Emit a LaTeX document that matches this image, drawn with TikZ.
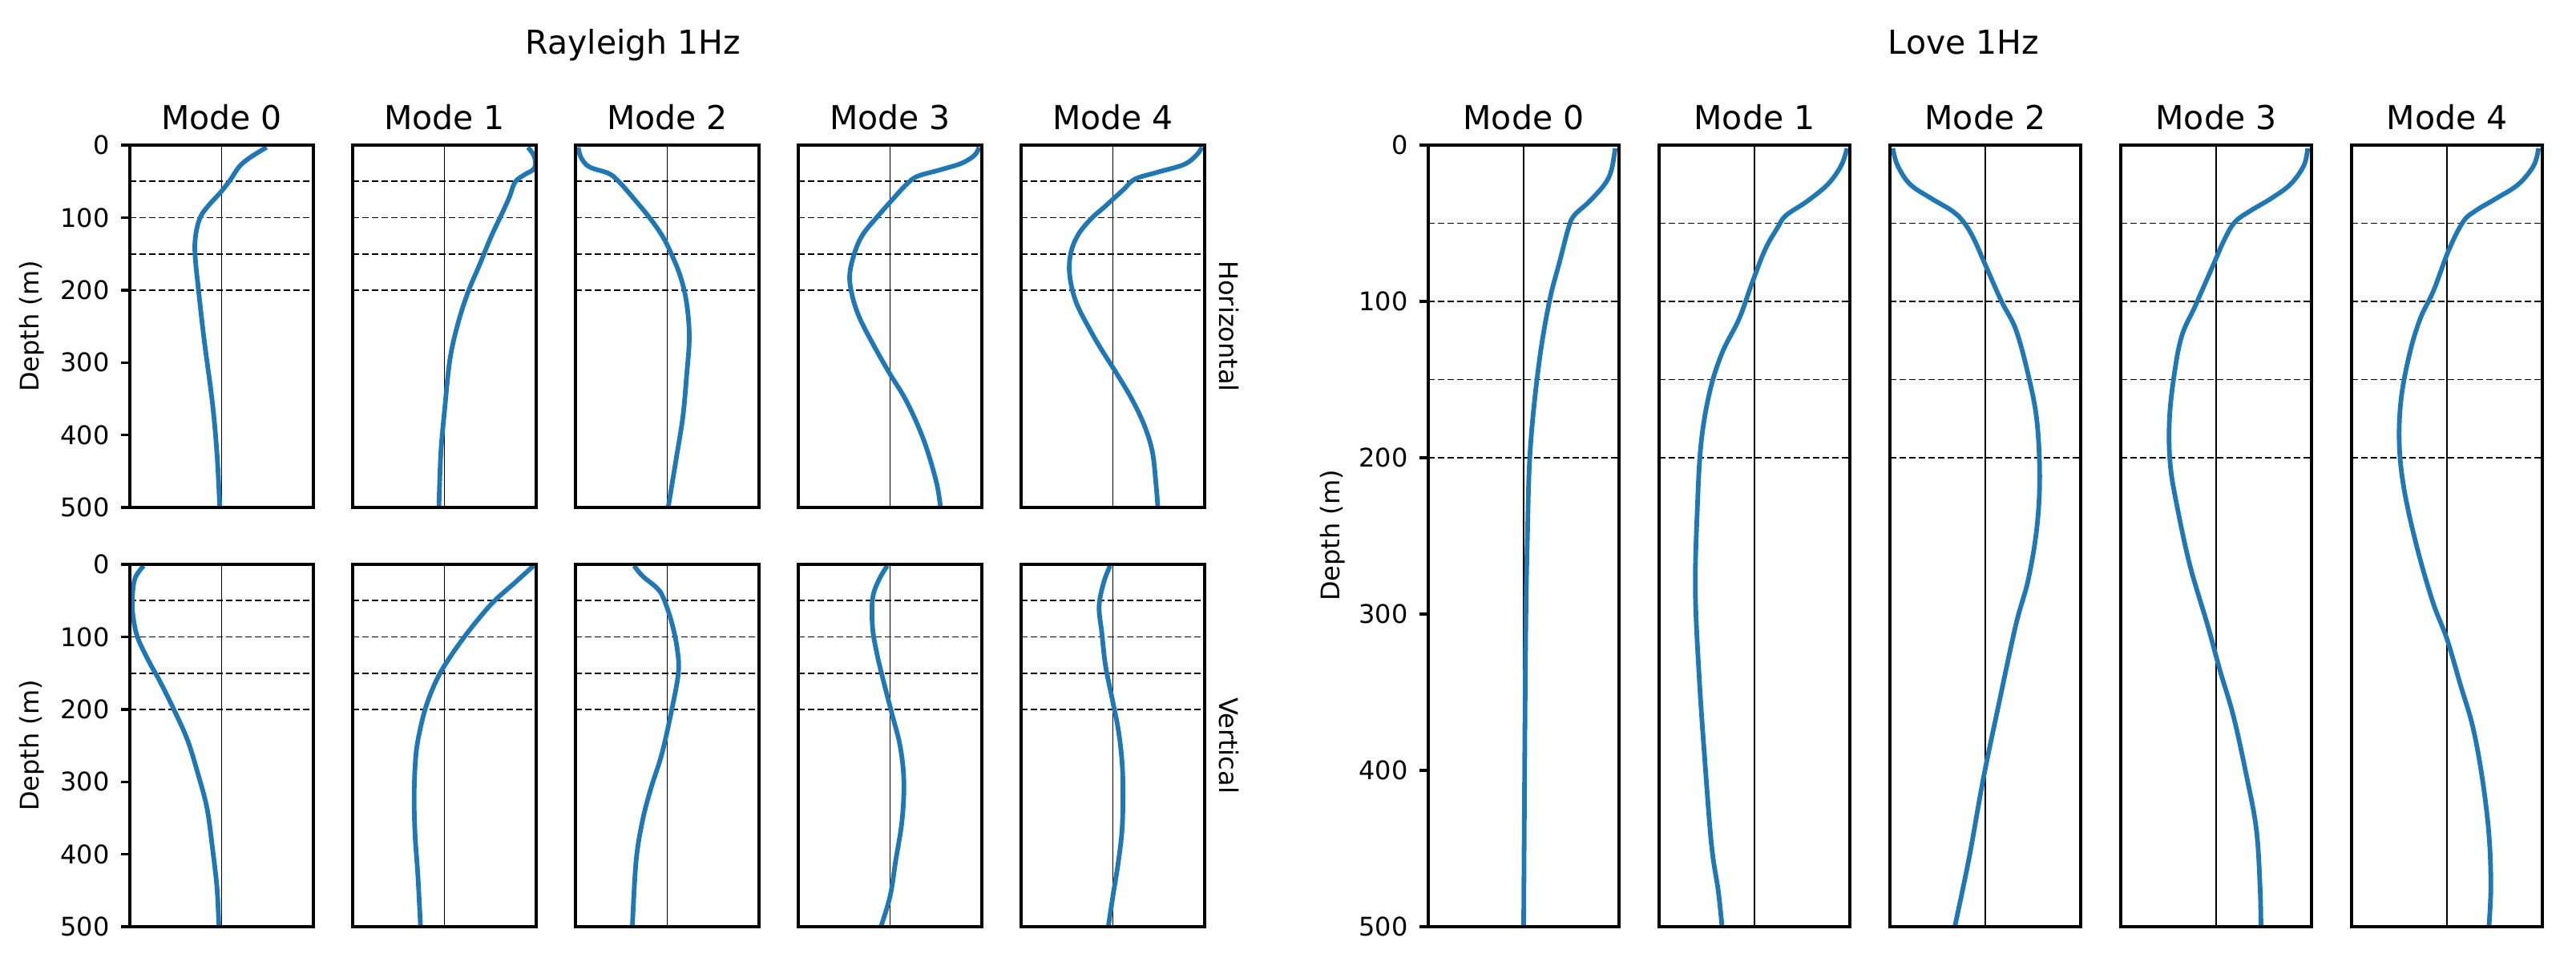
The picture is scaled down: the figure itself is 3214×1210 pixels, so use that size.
\documentclass[tikz,border=0pt]{standalone}
\usepackage{fontspec}
\setmainfont{DejaVu Sans}
\definecolor{mplblue}{HTML}{1F77B4}
\tikzset{
  boxframe/.style={line width=1.7pt},
  zeroline/.style={line width=0.9pt},
  layerline/.style={line width=0.9pt,dash pattern=on 4pt off 2pt},
  modecurve/.style={line width=2.9pt,mplblue,line join=round},
  ticklab/.style={font=\fontsize{16}{18}\selectfont,anchor=east,inner sep=0pt},
  titlelab/.style={font=\fontsize{20.5}{24}\selectfont,anchor=base,inner sep=0pt},
  axlab/.style={font=\fontsize{16}{18}\selectfont,inner sep=0pt},
}
% #1 cx px, #2 top px, #3 x unit, #4 y unit, #5 coords, #6 ticks (1/0)
\newcommand\mypanel[6]{%
  \begin{scope}[shift={(#1,#2)},x=#3,y=#4]
    \draw[zeroline] (0,0) -- (0,500);
    \foreach \d in {50,100,150,200}{\draw[layerline] (-1,\d) -- (1,\d);}
    \draw[modecurve] plot[smooth,tension=0.6] coordinates {#5};
    \draw[boxframe] (-1,0) rectangle (1,500);
    \ifnum#6=1
      \foreach \d in {0,100,...,500}{
        \draw[boxframe] (-1,\d) -- ++(-5.5pt,0);
        \node[ticklab] at ([xshift=-12.5pt]-1,\d) {\d};}
    \fi
  \end{scope}}
\begin{document}
\begin{tikzpicture}[x=0.5pt,y=-0.5pt]
\useasboundingbox (0,0) rectangle (3214,1210);
\def\rx{57.25pt}\def\ry{-0.452pt}
\def\lx{59.5pt}\def\ly{-0.975pt}
% titles
\node[titlelab] (rt) at (790,68) {Rayleigh 1Hz};
\node[titlelab] (lt) at (2450,68) {Love 1Hz};
\foreach \c/\m in {276.5/0,554.5/1,832.5/2,1110.5/3,1388.5/4}{
  \node[titlelab] at (\c,161) {Mode \m};}
\foreach \c/\m in {1901/0,2189/1,2477/2,2765/3,3053/4}{
  \node[titlelab] at (\c,161) {Mode \m};}
\node[axlab,rotate=90] (yl1) at (40,407) {Depth (m)};
\node[axlab,rotate=90] (yl2) at (40,930) {Depth (m)};
\node[axlab,rotate=90] (yl3) at (1663,668) {Depth (m)};
\node[axlab,rotate=-90] (hz) at (1533,407) {Horizontal};
\node[axlab,rotate=-90] (vt) at (1533,930) {Vertical};
% Rayleigh horizontal
\mypanel{276.5}{181}{\rx}{\ry}{(0.49,3) (0.30,18) (0.19,30) (0.10,47) (-0.01,65) (-0.14,83) (-0.23,99) (-0.28,122) (-0.29,150) (-0.25,202) (-0.19,269) (-0.10,356) (-0.05,427) (-0.02,500)}{1}
\mypanel{554.5}{181}{\rx}{\ry}{(0.91,3) (0.98,16) (0.98,32) (0.87,41) (0.77,51) (0.71,71) (0.64,91) (0.51,126) (0.38,166) (0.26,202) (0.15,245) (0.06,296) (0,368) (-0.04,427) (-0.06,500)}{0}
\mypanel{832.5}{181}{\rx}{\ry}{(-0.97,3) (-0.94,17) (-0.85,30) (-0.64,39) (-0.53,50) (-0.37,73) (-0.20,99) (-0.06,124) (0.03,146) (0.14,180) (0.21,217) (0.24,265) (0.21,320) (0.17,375) (0.10,431) (0.01,500)}{0}
\mypanel{1110.5}{181}{\rx}{\ry}{(0.97,3) (0.92,14) (0.78,25) (0.55,34) (0.30,43) (0.18,54) (0.02,76) (-0.14,99) (-0.30,124) (-0.39,150) (-0.44,180) (-0.41,209) (-0.33,239) (-0.18,276) (0,316) (0.16,349) (0.30,386) (0.41,423) (0.51,468) (0.55,500)}{0}
\mypanel{1388.5}{181}{\rx}{\ry}{(0.97,3) (0.91,14) (0.77,27) (0.47,38) (0.24,47) (0.11,62) (-0.08,84) (-0.24,102) (-0.38,124) (-0.46,150) (-0.47,180) (-0.40,217) (-0.24,257) (-0.11,285) (0.03,313) (0.20,349) (0.34,386) (0.43,423) (0.47,468) (0.49,500)}{0}
% Rayleigh vertical
\mypanel{276.5}{704}{\rx}{\ry}{(-0.85,2) (-0.94,18) (-0.97,40) (-0.97,66) (-0.92,99) (-0.80,132) (-0.67,162) (-0.51,203) (-0.37,243) (-0.26,288) (-0.16,336) (-0.10,391) (-0.05,447) (-0.03,500)}{1}
\mypanel{554.5}{704}{\rx}{\ry}{(0.97,2) (0.77,25) (0.54,51) (0.36,77) (0.20,103) (0.04,132) (-0.08,158) (-0.19,192) (-0.26,225) (-0.31,262) (-0.33,317) (-0.32,373) (-0.29,428) (-0.26,500)}{0}
\mypanel{832.5}{704}{\rx}{\ry}{(-0.36,2) (-0.27,16) (-0.11,33) (-0.04,47) (0.05,81) (0.11,118) (0.12,151) (0.04,206) (-0.06,262) (-0.18,310) (-0.27,354) (-0.34,410) (-0.38,500)}{0}
\mypanel{1110.5}{704}{\rx}{\ry}{(-0.03,2) (-0.12,21) (-0.19,47) (-0.19,88) (-0.14,125) (-0.07,162) (0.02,206) (0.11,251) (0.15,299) (0.13,354) (0.06,410) (0,458) (-0.10,500)}{0}
\mypanel{1388.5}{704}{\rx}{\ry}{(-0.03,2) (-0.10,25) (-0.15,58) (-0.12,95) (-0.08,140) (-0.01,184) (0.06,229) (0.10,273) (0.11,317) (0.10,366) (0.06,410) (0.00,458) (-0.05,500)}{0}
% Love
\mypanel{1901}{181}{\lx}{\ly}{(0.96,2) (0.92,16) (0.85,25) (0.69,36) (0.53,45) (0.47,53) (0.38,74) (0.27,100) (0.16,140) (0.07,194) (0.04,249) (0.02,321) (0,500)}{1}
\mypanel{2189}{181}{\lx}{\ly}{(0.97,2) (0.91,13) (0.77,25) (0.55,36) (0.33,45) (0.24,53) (0.11,67) (-0.03,89) (-0.16,111) (-0.34,133) (-0.47,158) (-0.56,191) (-0.60,234) (-0.62,285) (-0.58,340) (-0.52,394) (-0.45,448) (-0.38,477) (-0.34,500)}{0}
\mypanel{2477}{181}{\lx}{\ly}{(-0.97,2) (-0.92,13) (-0.79,25) (-0.57,34) (-0.35,42) (-0.23,49) (-0.12,60) (0.01,78) (0.17,100) (0.32,118) (0.45,147) (0.54,176) (0.57,212) (0.54,245) (0.45,278) (0.32,307) (0.14,358) (-0.02,405) (-0.17,456) (-0.32,500)}{0}
\mypanel{2765}{181}{\lx}{\ly}{(0.96,2) (0.92,13) (0.78,25) (0.58,34) (0.36,42) (0.20,49) (0.09,60) (-0.04,78) (-0.22,103) (-0.36,122) (-0.44,147) (-0.49,176) (-0.48,205) (-0.40,234) (-0.27,270) (-0.09,307) (0.04,336) (0.18,365) (0.31,401) (0.42,437) (0.46,474) (0.47,500)}{0}
\mypanel{3053}{181}{\lx}{\ly}{(0.96,2) (0.91,13) (0.75,25) (0.52,34) (0.30,42) (0.17,49) (0.02,67) (-0.14,93) (-0.28,111) (-0.39,133) (-0.48,162) (-0.50,191) (-0.45,220) (-0.32,256) (-0.15,292) (0.00,316) (0.14,345) (0.27,372) (0.37,405) (0.44,441) (0.46,474) (0.44,500)}{0}
\end{tikzpicture}
\end{document}
